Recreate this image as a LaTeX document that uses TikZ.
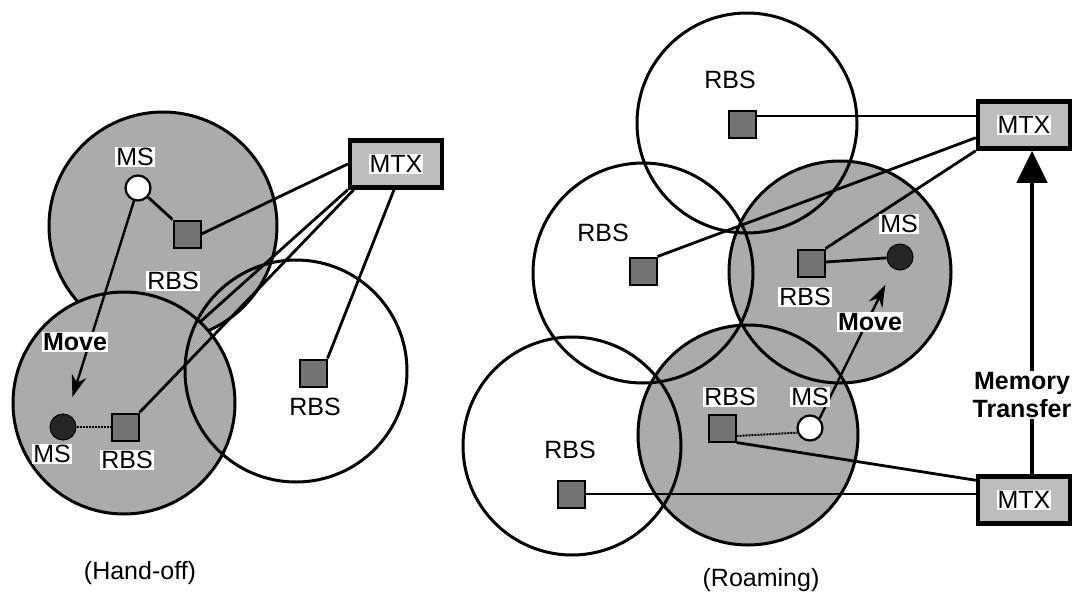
\documentclass[tikz,border=0pt]{standalone}
\usepackage{fontspec}
\setmainfont{Liberation Sans}
\usetikzlibrary{arrows.meta}
\begin{document}
\begin{tikzpicture}[x=1pt,y=-1pt,
  font=\fontsize{25}{28}\selectfont,
  shade/.style={fill=black!33},
  cell/.style={draw=black, line width=3pt},
  sq/.style={draw=black, line width=2pt, fill=black!55, minimum size=27pt, inner sep=0pt},
  mtx/.style={draw=black, line width=4.5pt, fill=black!26, minimum width=92pt, minimum height=47pt, inner sep=0pt},
  mtxt/.style={fill=white, inner sep=1pt},
  lbl/.style={fill=white, inner sep=1.5pt},
  plain/.style={inner sep=1pt},
  link/.style={line width=2.8pt},
  dlink/.style={line width=2pt, densely dotted},
  msw/.style={circle, draw=black, line width=2.2pt, fill=white, minimum size=25pt, inner sep=0pt},
  msd/.style={circle, draw=black, line width=1pt, fill=black!85, minimum size=26pt, inner sep=0pt},
  mv/.style={line width=2.4pt, -{Stealth[length=22pt,width=15pt]}},
]
\useasboundingbox (0,0) rectangle (1074,600);

% ---------------- Hand-off ----------------
\draw[cell, shade] (163,226) circle[radius=114];
\draw[cell, shade] (124,403) circle[radius=111];
\draw[cell] (296,371) circle[radius=111];

\node[msw] (MS1) at (138,188) {};
\node[sq] (RBS1) at (187,234) {};
\node[mtx] (MTXL) at (396,164) {};
\node[mtxt] (MTXLt) at (MTXL) {MTX};
\node[msd] (MS2) at (63,427) {};
\node[sq] (RBS2) at (125,427) {};
\node[sq] (RBS3) at (313,373) {};
\coordinate (endL) at (200,322);

\draw[link] (MS1) -- (RBS1.north west);
\draw[link] (MTXL.west) -- (RBS1.east);
\draw[link] (MTXL.south west) -- (endL);
\draw[link] ([xshift=6pt]MTXL.south west) -- (RBS2.north east);
\draw[link] ([xshift=-2pt]MTXL.south) -- (RBS3.north east);
\draw[dlink] (MS2) -- (RBS2);
\draw[mv, shorten >=18pt] (MS1) -- (MS2);

\node[lbl] (lMS1) at (135,157) {MS};
\node[lbl] (lRBS1) at (173,281) {RBS};
\node[lbl, font=\fontsize{25}{28}\selectfont\bfseries] (lMove1) at (75,342) {Move};
\node[lbl] (lMS2) at (52,454) {MS};
\node[lbl] (lRBS2) at (127,460) {RBS};
\node[plain] (lRBS3) at (315,407) {RBS};
\node[plain] (capA) at (140,573) {(Hand-off)};

% ---------------- Roaming ----------------
\fill[shade] (840,272) circle[radius=111];
\fill[shade] (748,435) circle[radius=110];
\draw[cell] (747,123) circle[radius=110];
\draw[cell] (643,273) circle[radius=110];
\draw[cell] (572,446) circle[radius=109];
\draw[cell] (840,272) circle[radius=111];
\draw[cell] (748,435) circle[radius=110];

\node[sq] (RBST) at (742,124) {};
\node[mtx] (MTXT) at (1024,125) {};
\node[mtxt] (MTXTt) at (MTXT) {MTX};
\node[sq] (RBSL) at (643,271) {};
\node[sq] (RBSM) at (811,263) {};
\node[msd] (MSD) at (900,257) {};
\node[sq] (RBSB) at (722,428) {};
\node[msw] (MSW) at (810,428) {};
\node[sq] (RBSBL) at (571,494) {};
\node[mtx] (MTXB) at (1024,500) {};
\node[mtxt] (MTXBt) at (MTXB) {MTX};

\draw[link] ([yshift=8pt]RBST.east) -- ([yshift=9pt]MTXT.west);
\draw[link] ([yshift=13pt]MTXT.south west) -- (RBSL.north east);
\draw[link] (MTXT.south west) -- (RBSM.north east);
\draw[link] (RBSM) -- (MSD);
\draw[dlink] ([yshift=-8pt]RBSB.east) -- (MSW.200);
\draw[link] (RBSB.south east) -- ([yshift=-6pt]MTXB.north west);
\draw[link] (RBSBL) -- (RBSBL -| MTXB.west);
\draw[mv, shorten >=18pt] (MSW.north east) -- (MSD.240);
\draw[line width=4.5pt, -{Triangle[length=32pt,width=30pt]}] ([xshift=8pt]MTXB.north) -- ([xshift=8pt]MTXT.south);

\node[plain] (lRBST) at (730,80) {RBS};
\node[plain] (lRBSL) at (603,233) {RBS};
\node[lbl] (lMSD) at (899,224) {MS};
\node[lbl] (lRBSM) at (805,297) {RBS};
\node[lbl, font=\fontsize{25}{28}\selectfont\bfseries] (lMove2) at (870,322) {Move};
\node[lbl] (lRBSB) at (730,397) {RBS};
\node[lbl] (lMSW) at (810,397) {MS};
\node[plain] (lRBSBL) at (570,450) {RBS};
\node[lbl, align=center, font=\fontsize{25}{28}\selectfont\bfseries] (lMem) at (1022,395) {Memory\\Transfer};
\node[plain] (capB) at (761,580) {(Roaming)};
\end{tikzpicture}
\end{document}
